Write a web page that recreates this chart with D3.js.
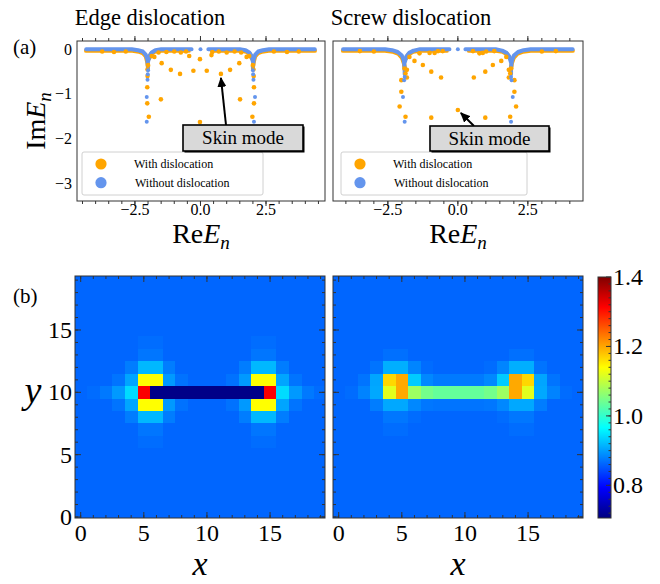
<!DOCTYPE html>
<meta charset="utf-8">
<style>
body { margin: 0; background: #fff; }
svg { font-family: "Liberation Serif", "Times New Roman", serif; }
.frame { fill: none; stroke: #333; stroke-width: 1; }
.tick { stroke: #333; stroke-width: 1; }
</style>
<svg width="660" height="584"></svg>
<script src="https://d3js.org/d3.v7.min.js"></script>
<script>
var svg = d3.select("svg");

// ---------- (a) spectra ----------
// dense parts of the spectra (drawn as thick strokes)
var edgeBlueBand = [
  [[-4.36,0],[-2.62,0],[-2.38,-0.02],[-2.2,-0.05],[-2.09,-0.12],[-2.03,-0.22],[-2.01,-0.34],[-2.0,-0.42]],
  [[-0.34,0],[-1.5,0],[-1.72,-0.02],[-1.86,-0.07],[-1.95,-0.15],[-1.99,-0.26]],
  [[0.3,0],[1.5,0],[1.72,-0.02],[1.86,-0.07],[1.95,-0.15],[1.99,-0.26]],
  [[4.36,0],[2.62,0],[2.38,-0.02],[2.2,-0.05],[2.09,-0.12],[2.03,-0.22],[2.01,-0.34],[2.0,-0.42]]
];
var edgeOrangeBand = [
  [[-4.36,-0.03],[-2.6,-0.03],[-2.35,-0.05],[-2.18,-0.09],[-2.08,-0.16],[-2.03,-0.27],[-2.0,-0.38]],
  [[-0.45,-0.03],[-1.5,-0.03],[-1.75,-0.05],[-1.88,-0.1],[-1.96,-0.2]],
  [[0.45,-0.03],[1.5,-0.03],[1.75,-0.05],[1.88,-0.1],[1.96,-0.2]],
  [[4.36,-0.03],[2.6,-0.03],[2.35,-0.05],[2.18,-0.09],[2.08,-0.16],[2.03,-0.27],[2.0,-0.38]]
];
var edgeOrangeDots = [
  [-3.75,-0.05],[-3.3,-0.06],[-2.85,-0.05],[-1.6,-0.07],[-1.3,-0.06],[-1.0,-0.05],[-0.75,-0.07],[-0.55,-0.05],
  [0.45,-0.06],[0.7,-0.05],[1.0,-0.07],[1.3,-0.05],[1.55,-0.07],[2.8,-0.05],[3.3,-0.06],[3.75,-0.05],
  [-1.86,-0.15],[-1.76,-0.17],[-1.48,-0.31],[-1.13,-0.46],[-0.78,-0.55],[-0.43,-0.15],[-0.27,-0.48],[-0.02,-0.22],
  [0.24,-0.48],[0.42,-0.13],[0.78,-0.55],[1.13,-0.46],[1.48,-0.31],[1.76,-0.17],[1.86,-0.15],
  [-2.0,-0.35],[-2.02,-0.45],[-2.02,-0.6],[-2.03,-0.85],[-2.03,-1.21],[-1.97,-1.51],[-1.51,-1.12],[-0.02,-1.63],
  [1.51,-1.12],[1.98,-1.51],[2.04,-1.21],[2.04,-0.85],[2.03,-0.6],[2.02,-0.45],[2.0,-0.35]
];
var edgeBlueDots = [
  [0,0],[-2.0,-0.47],[-2.01,-0.56],[-2.02,-0.68],[-2.05,-1.07],[-2.05,-1.62],
  [2.0,-0.47],[2.01,-0.56],[2.02,-0.68],[2.08,-1.07],[2.04,-1.62]
];
var edgeSkin = [0.78, -0.55];

var screwBlueBand = [
  [[-4.1,0],[-2.6,0],[-2.35,-0.02],[-2.15,-0.06],[-2.0,-0.14],[-1.93,-0.26],[-1.9,-0.4],[-1.9,-0.56]],
  [[-0.3,0],[-1.35,0],[-1.58,-0.03],[-1.74,-0.08],[-1.84,-0.16],[-1.89,-0.28]],
  [[0.27,0],[1.35,0],[1.58,-0.03],[1.74,-0.08],[1.84,-0.16],[1.89,-0.28]],
  [[4.1,0],[2.6,0],[2.35,-0.02],[2.15,-0.06],[2.0,-0.14],[1.93,-0.26],[1.9,-0.4],[1.9,-0.56]]
];
var screwOrangeBand = [
  [[-4.1,-0.03],[-2.6,-0.03],[-2.33,-0.05],[-2.12,-0.1],[-1.99,-0.19],[-1.92,-0.32],[-1.9,-0.45]],
  [[-0.4,-0.03],[-1.35,-0.03],[-1.6,-0.05],[-1.76,-0.11],[-1.86,-0.21]],
  [[0.4,-0.03],[1.35,-0.03],[1.6,-0.05],[1.76,-0.11],[1.86,-0.21]],
  [[4.1,-0.03],[2.6,-0.03],[2.33,-0.05],[2.12,-0.1],[1.99,-0.19],[1.92,-0.32],[1.9,-0.45]]
];
var screwOrangeDots = [
  [-3.5,-0.04],[-3.0,-0.05],[-1.37,-0.09],[-1.01,-0.08],[-0.83,-0.08],[-0.71,-0.04],[-0.54,-0.04],
  [0.54,-0.04],[0.77,-0.09],[0.89,-0.08],[1.01,-0.05],[1.3,-0.04],[3.0,-0.05],[3.5,-0.04],
  [-1.73,-0.17],[-1.55,-0.26],[-1.25,-0.35],[-0.95,-0.5],[-0.6,-0.63],
  [0.57,-0.63],[0.98,-0.5],[1.25,-0.35],[1.55,-0.26],[1.73,-0.17],
  [-1.9,-0.43],[-1.82,-0.46],[-1.87,-0.54],[-2.02,-0.69],[-1.82,-0.63],[-2.02,-0.95],[-2.08,-1.28],[-1.87,-1.51],
  [-0.95,-1.53],[0,-1.36],[0.98,-1.53],
  [1.9,-0.43],[1.82,-0.46],[1.87,-0.54],[2.02,-0.69],[1.82,-0.63],[2.02,-0.95],[2.08,-1.28],[1.87,-1.51]
];
var screwBlueDots = [
  [0,0],[-1.9,-0.62],[-1.92,-0.69],[-1.96,-1.07],[-1.9,-1.62],
  [1.9,-0.62],[1.92,-0.69],[1.96,-1.07],[1.9,-1.62]
];
var screwSkin = [0, -1.36];

var specXTicks = [-2.5, 0, 2.5];
var specYTicks = [0, -1, -2, -3];
var legendLabels = ["With dislocation", "Without dislocation"];

// ---------- (b) |psi| maps, 20 x 20 cells: background + cells that differ ----------
var gridSize = 20;
var edgeBase = 0.862;
var edgeCells = [
  [1,10,0.866],[2,10,0.875],[3,10,0.897],[4,10,0.942],[5,10,1.315],[6,10,0.712],[7,10,0.712],[8,10,0.712],
  [9,10,0.712],[10,10,0.712],[11,10,0.712],[12,10,0.712],[13,10,0.712],[14,10,0.712],[15,10,1.315],
  [16,10,0.942],[17,10,0.897],[18,10,0.875],[19,10,0.866],
  [3,11,0.872],[4,11,0.905],[5,11,1.14],[6,11,1.14],[7,11,0.897],[8,11,0.87],
  [12,11,0.87],[13,11,0.897],[14,11,1.14],[15,11,1.14],[16,11,0.905],[17,11,0.872],
  [3,9,0.872],[4,9,0.905],[5,9,1.14],[6,9,1.14],[7,9,0.897],[8,9,0.87],
  [12,9,0.87],[13,9,0.897],[14,9,1.14],[15,9,1.14],[16,9,0.905],[17,9,0.872],
  [4,12,0.878],[5,12,0.918],[6,12,0.918],[7,12,0.878],[13,12,0.878],[14,12,0.918],[15,12,0.918],[16,12,0.878],
  [4,8,0.878],[5,8,0.918],[6,8,0.918],[7,8,0.878],[13,8,0.878],[14,8,0.918],[15,8,0.918],[16,8,0.878],
  [5,13,0.873],[6,13,0.873],[14,13,0.873],[15,13,0.873],[5,7,0.873],[6,7,0.873],[14,7,0.873],[15,7,0.873],
  [5,14,0.867],[6,14,0.867],[14,14,0.867],[15,14,0.867],[5,6,0.867],[6,6,0.867],[14,6,0.867],[15,6,0.867]
];
var screwBase = 0.862;
var screwCells = [
  [1,10,0.866],[2,10,0.882],[3,10,0.907],[4,10,1.12],[5,10,1.198],[6,10,1.074],[7,10,1.045],[8,10,1.035],
  [9,10,1.035],[10,10,1.035],[11,10,1.035],[12,10,1.045],[13,10,1.074],[14,10,1.198],[15,10,1.12],
  [16,10,0.907],[17,10,0.882],[18,10,0.866],
  [2,11,0.872],[3,11,0.905],[4,11,1.167],[5,11,1.198],[6,11,0.931],[7,11,0.885],[8,11,0.876],[9,11,0.876],
  [10,11,0.876],[11,11,0.876],[12,11,0.885],[13,11,0.931],[14,11,1.198],[15,11,1.167],[16,11,0.905],[17,11,0.872],
  [3,12,0.872],[4,12,0.912],[5,12,0.912],[6,12,0.883],[7,12,0.866],[12,12,0.866],[13,12,0.883],[14,12,0.912],
  [15,12,0.912],[16,12,0.872],
  [3,9,0.878],[4,9,0.907],[5,9,0.907],[6,9,0.885],[7,9,0.874],[8,9,0.872],[9,9,0.872],[10,9,0.872],[11,9,0.872],
  [12,9,0.874],[13,9,0.885],[14,9,0.907],[15,9,0.907],[16,9,0.878],
  [4,13,0.869],[5,13,0.869],[14,13,0.869],[15,13,0.869],
  [4,8,0.874],[5,8,0.874],[6,8,0.866],[13,8,0.866],[14,8,0.874],[15,8,0.874],
  [4,7,0.867],[5,7,0.867],[14,7,0.867],[15,7,0.867]
];
var heatTicks = [0, 5, 10, 15];
var barTicks = [0.8, 1.0, 1.2, 1.4];
var barDomain = [0.706, 1.4];

var orange = "#ffa500", blue = "#6495ed";

function clamp(v) { return Math.max(0, Math.min(1, v)); }
function jet(t) {
  t = clamp(t);
  return d3.rgb(255 * clamp(1.5 - Math.abs(4 * t - 3)),
                255 * clamp(1.5 - Math.abs(4 * t - 2)),
                255 * clamp(1.5 - Math.abs(4 * t - 1))) + "";
}
var color = d3.scaleSequential(jet).domain(barDomain);

var defs = svg.append("defs");
defs.append("marker").attr("id", "arr")
    .attr("markerUnits", "userSpaceOnUse")
    .attr("markerWidth", 10).attr("markerHeight", 9)
    .attr("refX", 9).attr("refY", 4.5).attr("orient", "auto")
  .append("path").attr("d", "M0,0L10,4.5L0,9z").attr("fill", "#000");

var ySpec = d3.scaleLinear().domain([0.186, -3.396]).range([41, 201]);

function ticks(g, x, y, majX, minX, majY, minY, len) {
  var x0 = x.range()[0], x1 = x.range()[1], y0 = y.range()[1], y1 = y.range()[0];
  function add(vals, l, vertical) {
    vals.forEach(function(v) {
      if (vertical) {
        var px = x(v);
        if (px < x0 + 0.5 || px > x1 - 0.5) return;
        g.append("line").attr("class", "tick").attr("x1", px).attr("x2", px).attr("y1", y1).attr("y2", y1 - l);
        g.append("line").attr("class", "tick").attr("x1", px).attr("x2", px).attr("y1", y0).attr("y2", y0 + l);
      } else {
        var py = y(v);
        if (py < y0 + 0.5 || py > y1 - 0.5) return;
        g.append("line").attr("class", "tick").attr("y1", py).attr("y2", py).attr("x1", x0).attr("x2", x0 + l);
        g.append("line").attr("class", "tick").attr("y1", py).attr("y2", py).attr("x1", x1).attr("x2", x1 - l);
      }
    });
  }
  add(majX, len[0], true); add(minX, len[1], true);
  add(majY, len[0], false); add(minY, len[1], false);
}

function spectrum(p) {
  var g = svg.append("g");
  var x = p.x, y = ySpec;
  var x0 = x.range()[0], x1 = x.range()[1];
  var line = d3.line().x(function(d) { return x(d[0]); }).y(function(d) { return y(d[1]); });

  g.selectAll(".ob").data(p.orangeBand).join("path").attr("d", line)
      .attr("fill", "none").attr("stroke", orange).attr("stroke-width", 4.4)
      .attr("stroke-linecap", "round").attr("stroke-linejoin", "round");
  g.selectAll(".bb").data(p.blueBand).join("path").attr("d", line)
      .attr("fill", "none").attr("stroke", blue).attr("stroke-width", 4)
      .attr("stroke-linecap", "round").attr("stroke-linejoin", "round");
  g.selectAll(".od").data(p.orangeDots).join("circle")
      .attr("cx", function(d) { return x(d[0]); }).attr("cy", function(d) { return y(d[1]); })
      .attr("r", 2.3).attr("fill", orange);
  g.selectAll(".bd").data(p.blueDots).join("circle")
      .attr("cx", function(d) { return x(d[0]); }).attr("cy", function(d) { return y(d[1]); })
      .attr("r", 2).attr("fill", blue);

  g.append("rect").attr("class", "frame").attr("x", x0).attr("y", 41).attr("width", x1 - x0).attr("height", 160);
  ticks(g, x, y, specXTicks, d3.range(-4.5, 4.6, 0.5), specYTicks, d3.range(-3.4, 0.2, 0.2), [5, 3]);

  g.selectAll(".xl").data(specXTicks).join("text")
      .attr("x", function(d) { return x(d); }).attr("y", 215)
      .attr("text-anchor", "middle").attr("font-size", 16).text(d3.format(".1f"));
  if (p.showY) {
    g.selectAll(".yl").data(specYTicks).join("text")
        .attr("x", x0 - 5).attr("y", function(d) { return y(d); }).attr("dy", "0.33em")
        .attr("text-anchor", "end").attr("font-size", 16).text(d3.format("d"));
  }

  // legend
  var lg = p.legend;
  g.append("rect").attr("x", lg[0]).attr("y", 152).attr("width", lg[1]).attr("height", 43)
      .attr("rx", 2).attr("fill", "#fff").attr("stroke", "#d0d0d0");
  [orange, blue].forEach(function(c, i) {
    g.append("circle").attr("cx", lg[0] + 19).attr("cy", 164 + i * 18.7).attr("r", 5.6).attr("fill", c);
    g.append("text").attr("x", lg[0] + 52 + i).attr("y", 164 + i * 18.7).attr("dy", "0.33em")
        .attr("font-size", 12).text(legendLabels[i]);
  });

  // skin-mode callout
  var b = p.box;
  g.append("line").attr("x1", b[4]).attr("y1", b[1])
      .attr("x2", x(p.skin[0]) + p.tip[0]).attr("y2", y(p.skin[1]) + p.tip[1])
      .attr("stroke", "#000").attr("stroke-width", 2).attr("marker-end", "url(#arr)");
  g.append("rect").attr("x", b[0] + 1.5).attr("y", b[1] + 1.5).attr("width", b[2]).attr("height", b[3]).attr("fill", "#000");
  g.append("rect").attr("x", b[0]).attr("y", b[1]).attr("width", b[2]).attr("height", b[3])
      .attr("fill", "#d9d9d9").attr("stroke", "#000").attr("stroke-width", 1.6);
  g.append("text").attr("x", b[0] + b[2] / 2).attr("y", b[1] + b[3] / 2).attr("dy", "0.34em")
      .attr("text-anchor", "middle").attr("font-size", 19).text("Skin mode");

  // axis label and title
  var xl = g.append("text").attr("x", (x0 + x1) / 2).attr("y", 243).attr("text-anchor", "middle").attr("font-size", 28);
  xl.append("tspan").text("Re");
  xl.append("tspan").attr("font-style", "italic").text("E");
  xl.append("tspan").attr("font-style", "italic").attr("font-size", 19).attr("dy", 6).text("n");
  g.append("text").attr("x", p.titleX).attr("y", 25).attr("text-anchor", "middle").attr("font-size", 22.5).text(p.title);
}

spectrum({
  x: d3.scaleLinear().domain([-4.71, 4.75]).range([77, 325]),
  orangeBand: edgeOrangeBand, blueBand: edgeBlueBand, orangeDots: edgeOrangeDots, blueDots: edgeBlueDots,
  skin: edgeSkin, tip: [0, 4], box: [183, 125, 120, 26, 226],
  legend: [82, 181], showY: true, title: "Edge dislocation", titleX: 150
});
spectrum({
  x: d3.scaleLinear().domain([-4.46, 4.47]).range([333, 583]),
  orangeBand: screwOrangeBand, blueBand: screwBlueBand, orangeDots: screwOrangeDots, blueDots: screwBlueDots,
  skin: screwSkin, tip: [3, 3], box: [430, 126, 119, 25, 474],
  legend: [341, 186], showY: false, title: "Screw dislocation", titleX: 411
});

var yl = svg.append("text").attr("transform", "translate(45,121) rotate(-90)")
    .attr("text-anchor", "middle").attr("font-size", 28);
yl.append("tspan").text("Im");
yl.append("tspan").attr("font-style", "italic").text("E");
yl.append("tspan").attr("font-style", "italic").attr("font-size", 19).attr("dy", 6).text("n");
svg.append("text").attr("x", 13).attr("y", 54).attr("font-size", 21).text("(a)");
svg.append("text").attr("x", 13).attr("y", 303).attr("font-size", 21).text("(b)");

// ---------- heat maps ----------
var yHeat = d3.scaleLinear().domain([-0.08, 19.33]).range([518, 276]);

function heat(p) {
  var g = svg.append("g");
  var x = d3.scaleLinear().domain([-0.45, 19.35]).range([p.left, p.left + 250]);
  var y = yHeat;
  var cells = [];
  for (var i = 0; i < gridSize; i++)
    for (var j = 0; j < gridSize; j++) cells.push([i, j, p.base]);
  p.cells.forEach(function(c) { cells[c[0] * gridSize + c[1]][2] = c[2]; });

  defs.append("clipPath").attr("id", p.id).append("rect")
      .attr("x", p.left).attr("y", 276).attr("width", 250).attr("height", 242);
  g.append("rect").attr("x", p.left).attr("y", 276).attr("width", 250).attr("height", 242)
      .attr("fill", color(p.base));
  g.append("g").attr("clip-path", "url(#" + p.id + ")").attr("shape-rendering", "crispEdges")
    .selectAll("rect").data(cells.filter(function(d) { return d[2] !== p.base; })).join("rect")
      .attr("x", function(d) { return x(d[0] - 0.5); })
      .attr("y", function(d) { return y(d[1] + 0.5); })
      .attr("width", function(d) { return x(d[0] + 0.5) - x(d[0] - 0.5); })
      .attr("height", function(d) { return y(d[1] - 0.5) - y(d[1] + 0.5); })
      .attr("fill", function(d) { return color(d[2]); });

  g.append("rect").attr("class", "frame").attr("x", p.left).attr("y", 276).attr("width", 250).attr("height", 242);
  ticks(g, x, y, heatTicks, d3.range(0, 20, 1), heatTicks, d3.range(0, 20, 1), [6, 3]);

  g.selectAll(".xl").data(heatTicks).join("text")
      .attr("x", function(d) { return x(d); }).attr("y", 541)
      .attr("text-anchor", "middle").attr("font-size", 24).text(d3.format("d"));
  if (p.showY) {
    g.selectAll(".yl").data(heatTicks).join("text")
        .attr("x", p.left - 3).attr("y", function(d) { return y(d); }).attr("dy", "0.33em")
        .attr("text-anchor", "end").attr("font-size", 24).text(d3.format("d"));
  }
  g.append("text").attr("x", p.left + 125).attr("y", 575).attr("text-anchor", "middle")
      .attr("font-size", 34).attr("font-style", "italic").text("x");
}

heat({ left: 75, base: edgeBase, cells: edgeCells, showY: true, id: "c1" });
heat({ left: 333, base: screwBase, cells: screwCells, showY: false, id: "c2" });

svg.append("text").attr("x", 33).attr("y", 403).attr("text-anchor", "middle")
    .attr("font-size", 38).attr("font-style", "italic").text("y");

// ---------- colour bar ----------
var yBar = d3.scaleLinear().domain(barDomain).range([518, 277]);
var grad = defs.append("linearGradient").attr("id", "jet")
    .attr("x1", 0).attr("y1", 1).attr("x2", 0).attr("y2", 0);
grad.selectAll("stop").data(d3.range(0, 1.0001, 0.025)).join("stop")
    .attr("offset", function(d) { return d; })
    .attr("stop-color", function(d) { return color(barDomain[0] + d * (barDomain[1] - barDomain[0])); });
var cb = svg.append("g");
cb.append("rect").attr("x", 598).attr("y", 277).attr("width", 13).attr("height", 241).attr("fill", "url(#jet)");
cb.append("rect").attr("class", "frame").attr("x", 598).attr("y", 277).attr("width", 13).attr("height", 241);
cb.selectAll(".mn").data(d3.range(0.72, 1.4, 0.02)).join("line").attr("class", "tick")
    .attr("x1", 611).attr("x2", 608.5)
    .attr("y1", function(d) { return yBar(d); }).attr("y2", function(d) { return yBar(d); });
cb.selectAll(".mj").data(barTicks).join("line").attr("class", "tick")
    .attr("x1", 611).attr("x2", 606)
    .attr("y1", function(d) { return yBar(d); }).attr("y2", function(d) { return yBar(d); });
cb.selectAll("text").data(barTicks).join("text")
    .attr("x", 613).attr("y", function(d) { return yBar(d); }).attr("dy", "0.33em")
    .attr("font-size", 24).text(d3.format(".1f"));
</script>
